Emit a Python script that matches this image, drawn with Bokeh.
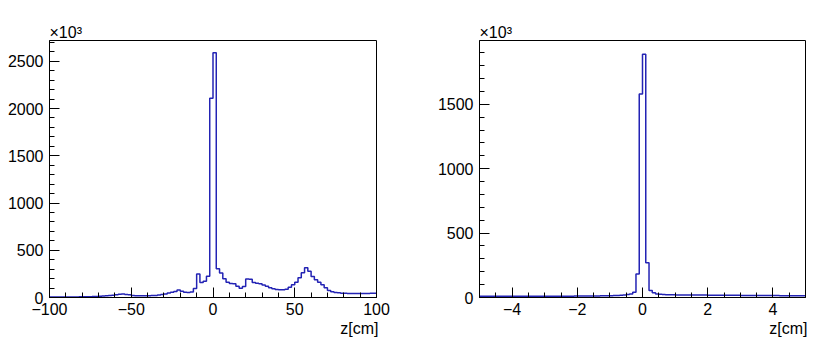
from bokeh.plotting import figure
from bokeh.layouts import row
from bokeh.models import SingleIntervalTicker, CustomJSTickFormatter, Title
from bokeh.embed import file_html
from bokeh.resources import INLINE

# ---- data (counts in units of 10^3) ----
left_range = (-100.0, 100.0)
left_counts = [
    4, 4, 4, 5, 5, 5, 5, 6, 6, 7,
    7, 8, 9, 10, 11,
    13, 15, 18, 21, 25,
    30, 34, 37, 33, 28,
    20, 18, 18, 18, 18,
    19, 20, 22, 26, 32,
    38, 47, 55, 64, 80,
    67, 56, 53, 58, 95,
    250, 160, 172, 226, 2110,
    2590, 303, 258, 198, 162,
    148, 145, 120, 99, 116,
    196, 194, 159, 150, 145,
    132, 118, 104, 92, 85,
    81, 81, 88, 108, 134,
    162, 208, 261, 314, 279,
    222, 187, 162, 134, 102,
    74, 60, 53, 49, 46,
    44, 43, 42, 42, 42,
    42, 43, 43, 44, 46,
]
right_range = (-5.0, 5.0)
right_counts = [
    10, 10, 9, 9, 9, 9, 9, 9, 9, 9,
    9, 9, 9, 9, 9, 9, 9, 9, 9, 9,
    9, 9, 9, 10, 10, 10, 10, 10, 10, 11,
    11, 11, 11, 12, 12, 12, 12, 13, 13, 13,
    14, 15, 16, 18, 20,
    23, 28, 41, 183, 1580,
    1890, 270, 54, 36, 28,
    25, 23, 22, 21, 21,
    20, 20, 20, 20, 19, 19, 19, 19, 19, 19,
    18, 18, 18, 18, 18, 17, 17, 17, 17, 17,
    16, 16, 16, 16, 16, 15, 15, 15, 15, 15,
    15, 15, 14, 14, 14, 14, 14, 14, 14, 14,
]
x_title = "z[cm]"
scale_text = "×10³"

FONT = "Liberation Sans"
LINE = "#2323b4"

fmt_code = "return (tick < 0 ? '\u2212' : '') + (Math.round(Math.abs(tick)*1000)/1000).toString();"


def make_hist(xr, counts, ymax, xint, xminor, border_left, border_right, frame_w):
    p = figure(frame_width=frame_w, frame_height=257,
               x_range=xr, y_range=(0, ymax),
               output_backend="svg", toolbar_location=None,
               min_border_left=border_left, min_border_right=border_right,
               min_border_top=40, min_border_bottom=49)
    p.xgrid.visible = False
    p.ygrid.visible = False
    p.outline_line_color = "black"
    p.outline_line_width = 1
    p.outline_line_alpha = 1
    p.background_fill_color = "white"
    p.border_fill_color = "white"

    n = len(counts)
    w = (xr[1] - xr[0]) / n
    edges = [xr[0] + i * w for i in range(n + 1)]
    ys = list(counts) + [counts[-1]]
    p.step(x=edges, y=ys, mode="after", line_color=LINE, line_width=1.5)

    p.xaxis.ticker = SingleIntervalTicker(interval=xint, num_minor_ticks=xminor)
    p.yaxis.ticker = SingleIntervalTicker(interval=500, num_minor_ticks=5)
    for ax in (p.xaxis[0], p.yaxis[0]):
        ax.formatter = CustomJSTickFormatter(code=fmt_code)
        ax.major_tick_in = 10
        ax.major_tick_out = 0
        ax.minor_tick_in = 5
        ax.minor_tick_out = 0
        ax.major_tick_line_color = "black"
        ax.minor_tick_line_color = "black"
        ax.axis_line_color = "black"
        ax.major_label_text_font = FONT
        ax.major_label_text_font_size = "16px"
        ax.major_label_text_color = "black"
        ax.major_label_standoff = 6
    p.xaxis.major_label_standoff = 5

    p.add_layout(Title(text=x_title, align="right", text_font=FONT,
                       text_font_size="16px", text_font_style="normal",
                       text_color="black", standoff=0, offset=-2), "below")
    p.add_layout(Title(text=scale_text, align="left", text_font=FONT,
                       text_font_size="16px", text_font_style="normal",
                       text_color="black", standoff=0, offset=0), "above")
    return p


p1 = make_hist(left_range, left_counts, 2720, 50, 5, 49, 35, 327)
p2 = make_hist(right_range, right_counts, 1996, 2, 4, 68, 9, 326)

layout = row(p1, p2)
open("out.html", "w").write(file_html(layout, INLINE))
